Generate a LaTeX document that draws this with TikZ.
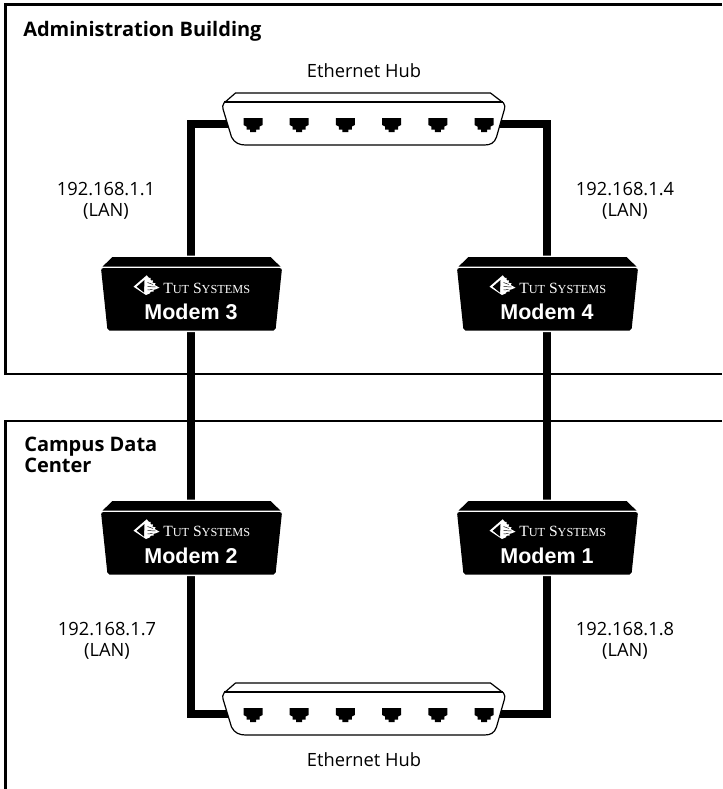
\documentclass[tikz,border=0pt]{standalone}
\usepackage{fontspec}
\setmainfont{Open Sans}
\newfontfamily\modemfont{Liberation Sans}
\newfontfamily\brandfont{Liberation Serif}
\tikzset{
  x=0.75pt,y=-0.75pt,
  roombox/.style={line width=2pt,black},
  cable/.style={line width=6pt,black,line cap=butt,line join=miter},
  lbl/.style={font=\fontsize{13.7}{15.8}\selectfont,align=center,text=black,inner sep=0pt},
  roomlbl/.style={font=\fontsize{15}{15.8}\selectfont\bfseries,align=left,anchor=north west,inner sep=0pt},
  modemname/.style={font=\modemfont\fontsize{16.1}{18}\selectfont\bfseries,text=white,inner sep=0pt},
  brandname/.style={font=\brandfont\fontsize{11.7}{13}\selectfont,text=white,inner sep=0pt,anchor=west},
  anchorpt/.style={inner sep=0pt,minimum size=0pt},
}
\newcommand{\brandtext}{T{\fontsize{9.2}{11}\selectfont UT} S{\fontsize{9.2}{11}\selectfont YSTEMS}}
\newcommand{\jack}[2]{%
  \fill[black,xshift=#1*0.75pt,yshift=-#2*0.75pt]
    (-9.5,-7) -- (9.5,-7) -- (9.5,0) -- (6.5,1.5) -- (6.5,4.5) -- (3,4.5) -- (3,7) -- (-3,7) -- (-3,4.5) -- (-6.5,4.5) -- (-6.5,1.5) -- (-9.5,0) -- cycle;}
\newcommand{\hubshape}[2]{% centre x, top y
  \begin{scope}[xshift=#1*0.75pt,yshift=-#2*0.75pt]
  \filldraw[fill=white,draw=black,line width=0.9pt,line join=round]
    (-128,0) -- (127,0) -- (140,10)
    .. controls (141.5,12) and (141.5,14) .. (141,16)
    -- (133,44) .. controls (131,50) and (127,52) .. (121,52)
    -- (-118,52) .. controls (-124,52) and (-129,50) .. (-132,44)
    -- (-140.5,16) .. controls (-141,14) and (-141,12) .. (-139.5,10) -- cycle;
  \draw[black,line width=0.9pt] (-139.5,9) -- (139.5,9);
  \foreach \jx in {-110.5,-64.3,-18.1,28.1,74.3,120.5} {\jack{\jx}{32}}
  \end{scope}}
\newcommand{\modembody}[2]{% centre x, top y
  \begin{scope}[xshift=#1*0.75pt,yshift=-#2*0.75pt]
  \fill[white] (-80,-1.5) -- (80,-1.5) -- (92,11) -- (85.5,75) -- (-85.5,75) -- (-92,11) -- cycle;
  \fill[black,line join=round]
    (-79,0) -- (79,0) -- (89,9.6) -- (-89,9.6) -- cycle;
  \fill[black,rounded corners=1.5pt]
    (-90.5,11.2) -- (90.5,11.2) -- (84,73.5) -- (-84,73.5) -- cycle;
  % logo: outlined pyramid, serrated right side
  \fill[white] (-58,29.7) -- (-44.8,18.3) -- (-42.5,21) -- (-41,20.8) -- (-41,23.2) -- (-38.5,23.5) -- (-39,25.8) -- (-36,26.2) -- (-36.8,28) -- (-32,30.7)
     -- (-36.5,32.5) -- (-38,32.6) -- (-38,34.5) -- (-41,34.8) -- (-41.5,36.3) -- (-45.5,38) -- cycle;
  \fill[black] (-54.8,29.7) -- (-47,23) -- (-47.5,35.6) -- cycle;
  \draw[black,line width=0.35pt] (-44,25.5) -- (-38.5,27.5) (-44,29.5) -- (-36,30) (-44,33) -- (-39,32.5);
  \end{scope}}
\begin{document}
\begin{tikzpicture}
\useasboundingbox (0,0) rectangle (722,789);
\fill[white] (0,0) rectangle (722,789);
% rooms
\draw[roombox] (722,4.5) -- (5.5,4.5) -- (5.5,374) -- (722,374);
\draw[roombox] (722,421) -- (5.5,421) -- (5.5,789);
\node[roomlbl] (admin) at (23,21) {Administration Building};
\node[roomlbl] (campus) at (24,437) {Campus Data\\Center};
% named anchors
\node[anchorpt] (hubAl) at (230,124) {};
\node[anchorpt] (hubAr) at (498,124) {};
\node[anchorpt] (hubBl) at (230,714) {};
\node[anchorpt] (hubBr) at (498,714) {};
\node[anchorpt] (m3) at (191,295) {};
\node[anchorpt] (m4) at (547,295) {};
\node[anchorpt] (m2) at (191,534) {};
\node[anchorpt] (m1) at (547,534) {};
% cables
\draw[cable] (hubAl.center) -| (m3.center);
\draw[cable] (hubAr.center) -| (m4.center);
\draw[cable] (hubBl.center) -| (m2.center);
\draw[cable] (hubBr.center) -| (m1.center);
\draw[cable] (m3.center) -- (m2.center);
\draw[cable] (m4.center) -- (m1.center);
% hubs
\hubshape{363.5}{93}
\hubshape{363.5}{683}
% modems
\modembody{191.5}{257}
\modembody{547.5}{257}
\modembody{191.5}{501}
\modembody{547.5}{501}
\node[brandname] (b3) at (163,288) {\brandtext};
\node[brandname] (b4) at (519,288) {\brandtext};
\node[brandname] (b2) at (163,531.5) {\brandtext};
\node[brandname] (b1) at (519,531.5) {\brandtext};
\node[modemname] (n3) at (191,312) {Modem 3};
\node[modemname] (n4) at (547,312) {Modem 4};
\node[modemname] (n2) at (191,556) {Modem 2};
\node[modemname] (n1) at (547,556) {Modem 1};
% labels
\node[lbl] (hl1) at (364,71) {Ethernet Hub};
\node[lbl] (hl2) at (364,760) {Ethernet Hub};
\node[lbl] (a1) at (106,201) {192.168.1.1\\(LAN)};
\node[lbl] (a4) at (625,201) {192.168.1.4\\(LAN)};
\node[lbl] (a7) at (107,641) {192.168.1.7\\(LAN)};
\node[lbl] (a8) at (625,641) {192.168.1.8\\(LAN)};
\end{tikzpicture}
\end{document}
